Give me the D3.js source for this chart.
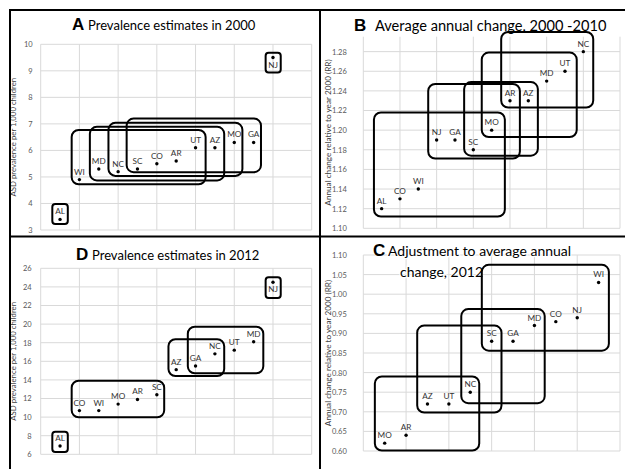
<!DOCTYPE html>
<html><head><meta charset="utf-8">
<script src="https://d3js.org/d3.v7.min.js"></script>
<style>
html,body{margin:0;padding:0;background:#fff;}
svg{display:block;font-family:Lato,"Open Sans",sans-serif;}
</style></head>
<body>
<svg id="c" width="625" height="469"></svg>
<script>
// ---------- DATA ----------
const A_states = ["AL","WI","MD","NC","SC","CO","AR","UT","AZ","MO","GA","NJ"];
const A_values = [3.4,4.9,5.3,5.2,5.3,5.5,5.6,6.1,6.1,6.3,6.3,9.5];
const A_ticks  = [3,4,5,6,7,8,9,10];
// cluster ranges in data units: [x0, x1, y0, y1]
const A_groups = [[0.30,0.70,3.23,3.98],[5.81,6.20,8.94,9.68],[0.80,4.26,4.72,6.77],[1.27,4.74,4.87,6.89],[1.75,5.21,5.04,7.04],[2.22,5.69,5.18,7.20]];

const B_states = ["AL","CO","WI","NJ","GA","SC","MO","AR","AZ","MD","UT","NC"];
const B_values = [1.12,1.13,1.14,1.19,1.19,1.18,1.20,1.23,1.23,1.25,1.26,1.28];
const B_ticks  = [1.10,1.12,1.14,1.16,1.18,1.20,1.22,1.24,1.26,1.28];
const B_groups = [[0.29,3.86,1.112,1.218],[1.77,4.27,1.171,1.247],[2.75,4.76,1.174,1.249],[3.23,5.82,1.193,1.279],[3.76,6.27,1.223,1.300]];

const C_states = ["MO","AR","AZ","UT","NC","SC","GA","MD","CO","NJ","WI"];
const C_values = [0.62,0.64,0.72,0.72,0.75,0.88,0.88,0.92,0.93,0.94,1.03];
const C_ticks  = [0.60,0.65,0.70,0.75,0.80,0.85,0.90,0.95,1.00,1.05,1.10];
const C_groups = [[0.27,2.71,0.601,0.790],[1.26,3.23,0.698,0.920],[2.29,4.24,0.722,0.962],[2.77,5.74,0.856,1.075]];

const D_states = ["AL","CO","WI","MO","AR","SC","AZ","GA","NC","UT","MD","NJ"];
const D_values = [6.9,10.7,10.7,11.4,11.9,12.4,15.1,15.5,16.8,17.2,18.1,24.5];
const D_ticks  = [6,8,10,12,14,16,18,20,22,24,26];
const D_groups = [[0.30,0.70,6.25,8.43],[5.81,6.20,22.8,25.03],[0.80,3.19,9.98,13.91],[3.30,4.74,14.42,18.37],[3.80,5.75,14.71,19.72]];

const yLabelPrev = "ASD prevalence per 1,000 children";
const yLabelRR = "Annual change relative to year 2000 (RR)";

// ---------- DRAW ----------
const svg = d3.select("#c");

function panel(cfg){
  const g = svg.append("g");
  const x = d3.scaleLinear().domain(cfg.xDom).range(cfg.xRange);
  const y = d3.scaleLinear().domain(cfg.yDom).range(cfg.yRange);
  const gridTop = cfg.gridTop;
  const yBot = y(cfg.ticks[0]);
  // vertical gridlines
  const xt = d3.range(cfg.xDom[0], cfg.xDom[1]+0.001, 1);
  g.append("g").selectAll("line").data(xt).join("line")
    .attr("x1", d=>x(d)).attr("x2", d=>x(d))
    .attr("y1", gridTop).attr("y2", yBot)
    .attr("stroke", "#d9d9d9").attr("stroke-width", 1);
  // horizontal gridlines
  g.append("g").selectAll("line").data(cfg.ticks).join("line")
    .attr("x1", x(cfg.xDom[0])).attr("x2", x(cfg.xDom[1]))
    .attr("y1", d=>y(d)).attr("y2", d=>y(d))
    .attr("stroke", "#d9d9d9").attr("stroke-width", 1);
  // y tick labels via axis
  const ax = d3.axisLeft(y).tickValues(cfg.ticks).tickSize(0).tickPadding(0).tickFormat(cfg.fmt);
  const axg = g.append("g").attr("transform", `translate(${x(cfg.xDom[0]) - cfg.tickGap},0)`).call(ax);
  axg.select(".domain").remove();
  axg.selectAll("text").attr("font-size", 7.5).attr("fill", "#595959").attr("font-family", "Lato, sans-serif");
  // y axis title
  const yc = (gridTop + yBot)/2;
  g.append("text")
    .attr("transform", `translate(${cfg.yTitleX},${yc}) rotate(-90)`)
    .attr("text-anchor", "middle").attr("font-size", cfg.yTitleSize).attr("fill", "#404040")
    .text(cfg.yTitle);
  // title
  if (cfg.titleLines) {
    const tg = g.append("g");
    tg.append("text").attr("x", cfg.letterX).attr("y", cfg.letterY)
      .attr("font-size", 17).attr("font-weight", "bold").attr("fill", "#000")
      .attr("font-family", "Liberation Sans, Arial, sans-serif").text(cfg.letter);
    cfg.titleLines.forEach((l, i) => {
      tg.append("text").attr("x", l[0]).attr("y", l[1])
        .attr("font-size", cfg.titleSize).attr("fill", "#000")
        .attr("stroke", "#fff").attr("stroke-width", 2.5).attr("paint-order", "stroke")
        .text(l[2]);
    });
  }
  // cluster boxes
  g.append("g").selectAll("rect").data(cfg.groups).join("rect")
    .attr("x", d=>x(d[0])).attr("y", d=>y(d[3]))
    .attr("width", d=>x(d[1])-x(d[0])).attr("height", d=>y(d[2])-y(d[3]))
    .attr("rx", d=> (x(d[1])-x(d[0])) < 25 ? 3 : 7)
    .attr("fill", "none").attr("stroke", "#000").attr("stroke-width", 2);
  // points
  const pts = cfg.states.map((s,i)=>({s, v: cfg.values[i], i}));
  g.append("g").selectAll("circle").data(pts).join("circle")
    .attr("cx", d=>x((d.i+1)*0.5)).attr("cy", d=>y(d.v)).attr("r", 1.7).attr("fill", "#000");
  g.append("g").selectAll("text").data(pts).join("text")
    .attr("x", d=>x((d.i+1)*0.5))
    .attr("y", d=> (cfg.below && cfg.below.includes(d.s)) ? y(d.v)+10 : y(d.v)-5)
    .attr("text-anchor", "middle").attr("font-size", 8.2).attr("fill", "#333")
    .text(d=>d.s);
}

panel({states:A_states, values:A_values, ticks:A_ticks, groups:A_groups,
  xDom:[0,7], xRange:[40.7,311.7], yDom:[3,10], yRange:[230,44.3], gridTop:44.3,
  fmt:d3.format("d"), tickGap:8, yTitle:yLabelPrev, yTitleX:16, yTitleSize:7.8,
  letter:"A", letterX:72, letterY:30, titleSize:13,
  titleLines:[[88,30,"Prevalence estimates in 2000"]], below:["NJ"]});

panel({states:B_states, values:B_values, ticks:B_ticks, groups:B_groups,
  xDom:[0,7], xRange:[363.3,620], yDom:[1.10,1.30], yRange:[228.3,32], gridTop:36.7,
  fmt:d3.format(".2f"), tickGap:16.5, yTitle:yLabelRR, yTitleX:330.5, yTitleSize:8.2,
  letter:"B", letterX:354, letterY:31, titleSize:14.6,
  titleLines:[[375,31,"Average annual change, 2000 -2010"]]});

panel({states:D_states, values:D_values, ticks:D_ticks, groups:D_groups,
  xDom:[0,7], xRange:[40.7,311.7], yDom:[6,26], yRange:[454.3,268.3], gridTop:268.3,
  fmt:d3.format("d"), tickGap:9, yTitle:yLabelPrev, yTitleX:16, yTitleSize:7.8,
  letter:"D", letterX:76, letterY:260, titleSize:13,
  titleLines:[[92,260,"Prevalence estimates in 2012"]], below:["NJ"]});

panel({states:C_states, values:C_values, ticks:C_ticks, groups:C_groups,
  xDom:[0,6], xRange:[363.3,620], yDom:[0.60,1.10], yRange:[451,255], gridTop:255,
  fmt:d3.format(".2f"), tickGap:16.5, yTitle:yLabelRR, yTitleX:330.5, yTitleSize:8.2,
  letter:"C", letterX:373, letterY:256, titleSize:14,
  titleLines:[[388,256,"Adjustment to average annual"],[400,277,"change, 2012"]]});

// frame lines
const frame = svg.append("g").attr("stroke", "#000").attr("stroke-width", 2);
frame.append("line").attr("x1",10).attr("x2",10).attr("y1",9).attr("y2",469);
frame.append("line").attr("x1",9).attr("x2",625).attr("y1",10).attr("y2",10);
frame.append("line").attr("x1",320).attr("x2",320).attr("y1",10).attr("y2",469);
frame.append("line").attr("x1",10).attr("x2",625).attr("y1",236.5).attr("y2",236.5);
</script>
</body></html>
